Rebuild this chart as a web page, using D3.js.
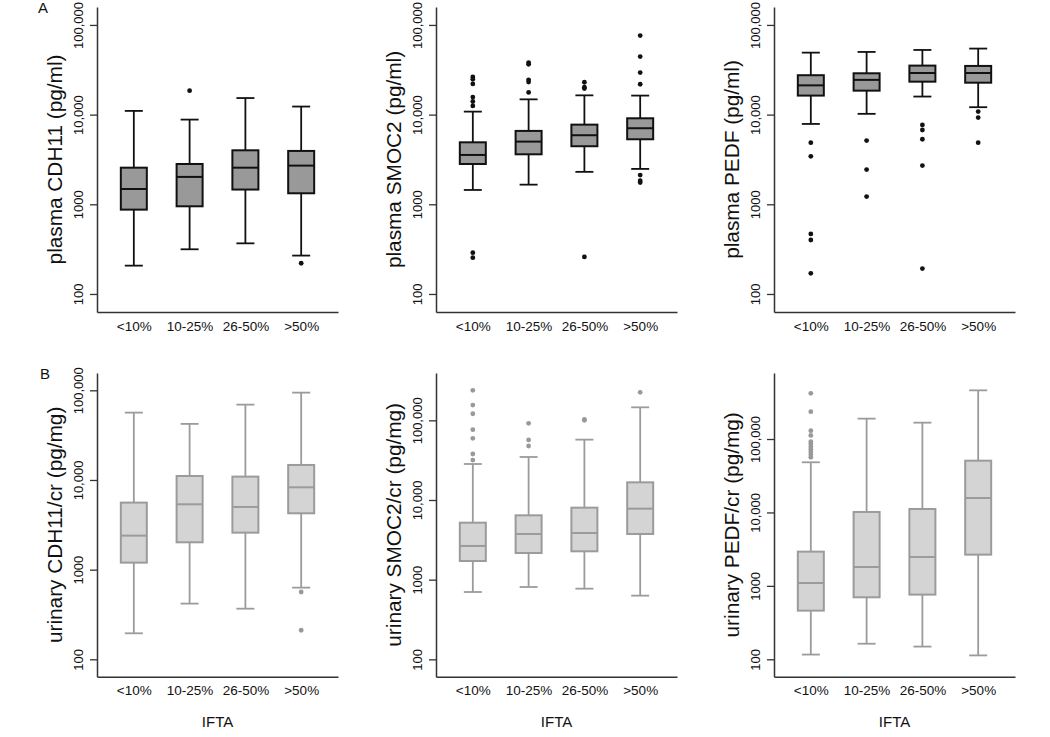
<!DOCTYPE html>
<html>
<head>
<meta charset="utf-8">
<script src="https://cdn.jsdelivr.net/npm/d3@7"></script>
<style>
  body { margin: 0; background: #fff; }
  text { font-family: "Liberation Sans", Arial, Helvetica, sans-serif; }
</style>
</head>
<body>
<script>
// groups on the x axis
const categories = ['<10%', '10-25%', '26-50%', '>50%'];
const tickValues = [100, 1000, 10000, 100000];
const tickLabels = ['100', '1000', '10,000', '100,000'];

// each entry: [whisker low, Q1, median, Q3, whisker high]
const plasmaCDH11 = [[207, 872, 1480, 2560, 11000], [315, 950, 2020, 2815, 8800], [367, 1460, 2560, 4000, 15300], [268, 1327, 2700, 3935, 12300]];
const plasmaCDH11Out = [[], [18500], [], [220]];

const plasmaSMOC2 = [[1445, 2815, 3550, 4910, 10800], [1656, 3610, 5000, 6580, 14800], [2300, 4440, 5890, 7730, 16400], [2480, 5310, 7050, 9100, 16300]];
const plasmaSMOC2Out = [[26300, 24800, 22000, 15700, 14000, 12500, 289, 254], [38000, 36400, 24400, 23100, 17700], [22960, 20200, 19500, 259], [76000, 44400, 29400, 21800, 2120, 1835, 1745]];

const plasmaPEDF = [[7870, 16300, 21200, 27500, 49100], [10200, 18500, 24400, 28900, 50000], [15900, 23300, 29100, 35200, 52600], [12100, 22700, 29100, 34900, 54500]];
const plasmaPEDFOut = [[4870, 3430, 467, 400, 170], [5130, 2440, 1220], [7670, 6740, 5310, 2700, 192], [10800, 9270, 4870]];

const urineCDH11 = [[195, 1197, 2395, 5590, 56400], [418, 2018, 5355, 11080, 42200], [367, 2585, 5000, 10900, 69200], [630, 4250, 8280, 14700, 94200]];
const urineCDH11Out = [[], [], [], [563, 211]];

const urineSMOC2 = [[700, 1714, 2650, 5190, 28300], [809, 2160, 3745, 6420, 34650], [771, 2270, 3855, 8010, 57200], [630, 3745, 7780, 16660, 145600]];
const urineSMOC2Out = [[238000, 155600, 121000, 76400, 59400, 37800, 31700], [91700, 56700, 47600], [103000, 100000], [224500]];

const urinePEDF = [[116, 460, 1095, 2925, 48200], [163, 699, 1808, 10150, 189400], [149, 760, 2475, 11150, 167000], [113, 2663, 15740, 50700, 460000]];
const urinePEDFOut = [[419000, 236000, 130000, 112000, 92000, 85500, 78700, 72400, 66600, 61300, 56400], [], [], []];

const dark = { fill: '#999999', stroke: '#111', dot: '#111' };
const light = { fill: '#d4d4d4', stroke: '#9b9b9b', dot: '#999' };

const panels = [
  { x0: 97, top: 7, bottom: 312, lo: 1.799, hi: 5.2, stats: plasmaCDH11, out: plasmaCDH11Out, title: 'plasma CDH11 (pg/ml)', c: dark },
  { x0: 436, top: 7, bottom: 312, lo: 1.799, hi: 5.2, stats: plasmaSMOC2, out: plasmaSMOC2Out, title: 'plasma SMOC2 (pg/ml)', c: dark },
  { x0: 774, top: 7, bottom: 312, lo: 1.799, hi: 5.2, stats: plasmaPEDF, out: plasmaPEDFOut, title: 'plasma PEDF (pg/ml)', c: dark },
  { x0: 97, top: 373, bottom: 676.7, lo: 1.806, hi: 5.193, stats: urineCDH11, out: urineCDH11Out, title: 'urinary CDH11/cr (pg/mg)', c: light, ifta: true },
  { x0: 436, top: 373, bottom: 676.7, lo: 1.782, hi: 5.594, stats: urineSMOC2, out: urineSMOC2Out, title: 'urinary SMOC2/cr (pg/mg)', c: light, ifta: true },
  { x0: 774, top: 373, bottom: 676.7, lo: 1.763, hi: 5.899, stats: urinePEDF, out: urinePEDFOut, title: 'urinary PEDF/cr (pg/mg)', c: light, ifta: true }
];

const panelWidth = 241;
const boxW = 26;
const capW = 18;

const svg = d3.select('body').append('svg')
    .attr('width', 1050)
    .attr('height', 737);

panels.forEach(p => {
    const x = d3.scalePoint()
        .domain(categories)
        .range([p.x0, p.x0 + panelWidth])
        .padding(0.66);

    const y = d3.scaleLog()
        .domain([Math.pow(10, p.lo), Math.pow(10, p.hi)])
        .range([p.bottom, p.top]);

    const g = svg.append('g');

    // y axis with rotated labels
    const yAxis = g.append('g')
        .attr('transform', 'translate(' + p.x0 + ',0)')
        .call(d3.axisLeft(y).tickValues(tickValues).tickFormat((d, i) => tickLabels[i]).tickSize(7).tickSizeOuter(0));
    yAxis.selectAll('text')
        .attr('transform', 'rotate(-90)')
        .attr('x', 0)
        .attr('y', -14)
        .attr('dy', 0)
        .attr('text-anchor', 'middle')
        .attr('font-size', '13px')
        .attr('font-family', '"Liberation Sans", Arial, sans-serif')
        .attr('fill', '#111');

    // x axis, no ticks
    const xAxis = g.append('g')
        .attr('transform', 'translate(0,' + p.bottom + ')')
        .call(d3.axisBottom(x).tickSize(0).tickSizeOuter(0).tickPadding(9));
    xAxis.selectAll('text')
        .attr('font-size', '13.5px')
        .attr('font-family', '"Liberation Sans", Arial, sans-serif')
        .attr('fill', '#111');

    g.selectAll('.domain').attr('stroke', '#333').attr('stroke-width', 1.5);
    g.selectAll('.tick line').attr('stroke', '#333').attr('stroke-width', 1.3);

    // axis title
    g.append('text')
        .attr('transform', 'translate(' + (p.x0 - 35) + ',' + ((p.top + p.bottom) / 2) + ') rotate(-90) scale(1.04,1)')
        .attr('text-anchor', 'middle')
        .attr('font-size', '20px')
        .attr('fill', '#111')
        .text(p.title);

    if (p.ifta) {
        g.append('text')
            .attr('x', p.x0 + panelWidth / 2)
            .attr('y', 726.5)
            .attr('text-anchor', 'middle')
            .attr('font-size', '15px')
            .attr('fill', '#111')
            .text('IFTA');
    }

    // boxes
    const box = g.selectAll('.box')
        .data(p.stats)
        .enter().append('g')
        .attr('class', 'box');

    const sw = 1.8;

    // whiskers
    box.append('line')
        .attr('x1', (d, i) => x(categories[i]))
        .attr('x2', (d, i) => x(categories[i]))
        .attr('y1', d => y(d[0]))
        .attr('y2', d => y(d[1]))
        .attr('stroke', p.c.stroke).attr('stroke-width', sw);
    box.append('line')
        .attr('x1', (d, i) => x(categories[i]))
        .attr('x2', (d, i) => x(categories[i]))
        .attr('y1', d => y(d[3]))
        .attr('y2', d => y(d[4]))
        .attr('stroke', p.c.stroke).attr('stroke-width', sw);

    // caps
    [0, 4].forEach(k => {
        box.append('line')
            .attr('x1', (d, i) => x(categories[i]) - capW / 2)
            .attr('x2', (d, i) => x(categories[i]) + capW / 2)
            .attr('y1', d => y(d[k]))
            .attr('y2', d => y(d[k]))
            .attr('stroke', p.c.stroke).attr('stroke-width', sw);
    });

    box.append('rect')
        .attr('x', (d, i) => x(categories[i]) - boxW / 2)
        .attr('width', boxW)
        .attr('y', d => y(d[3]))
        .attr('height', d => y(d[1]) - y(d[3]))
        .attr('fill', p.c.fill)
        .attr('stroke', p.c.stroke)
        .attr('stroke-width', 2);

    box.append('line')
        .attr('x1', (d, i) => x(categories[i]) - boxW / 2)
        .attr('x2', (d, i) => x(categories[i]) + boxW / 2)
        .attr('y1', d => y(d[2]))
        .attr('y2', d => y(d[2]))
        .attr('stroke', p.c.stroke).attr('stroke-width', 2);

    // outliers
    p.out.forEach((vals, i) => {
        g.selectAll(null)
            .data(vals)
            .enter().append('circle')
            .attr('cx', x(categories[i]))
            .attr('cy', d => y(d))
            .attr('r', 2.4)
            .attr('fill', p.c.dot);
    });
});

// panel letters
svg.append('text').attr('x', 38).attr('y', 13).attr('font-size', '15px').attr('fill', '#111').text('A');
svg.append('text').attr('x', 40).attr('y', 379).attr('font-size', '15px').attr('fill', '#111').text('B');
</script>
</body>
</html>
